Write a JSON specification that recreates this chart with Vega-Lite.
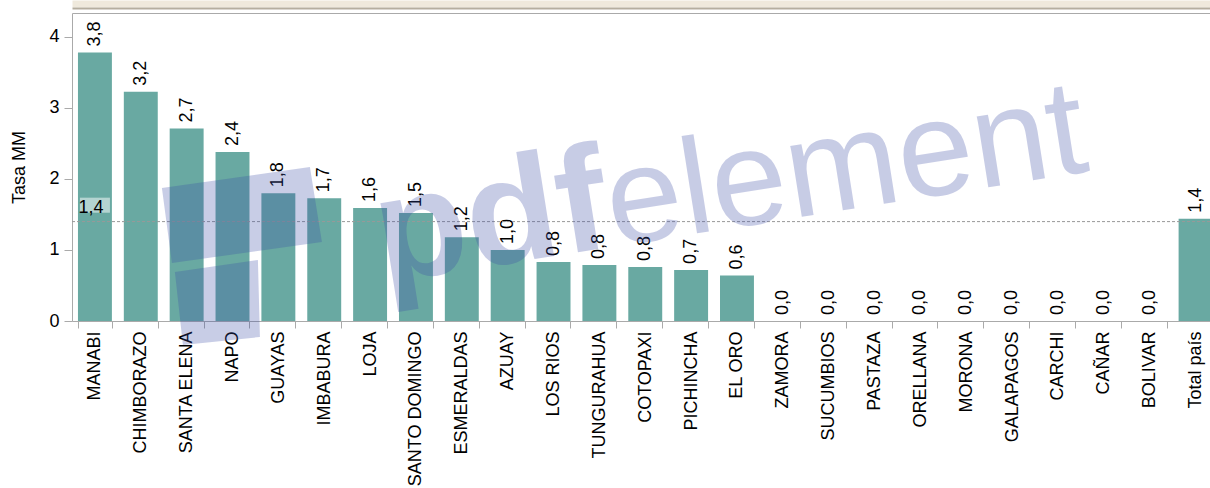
{
  "$schema": "https://vega.github.io/schema/vega-lite/v6.json",
  "width": 1138,
  "height": 308,
  "autosize": {"type": "none"},
  "padding": {"left": 72, "top": 13, "right": 0, "bottom": 167},
  "background": "white",
  "config": {
    "view": {"stroke": null},
    "font": "Liberation Sans",
    "locale": {"number": {"decimal": ",", "thousands": ".", "grouping": [3], "currency": ["", ""]}},
    "axis": {
      "labelFont": "Liberation Sans",
      "titleFont": "Liberation Sans",
      "labelColor": "black",
      "titleColor": "black",
      "domainColor": "#aaaaaa",
      "tickColor": "#aaaaaa",
      "grid": false
    }
  },
  "data": {
    "values": [
      {"provincia": "MANABI", "tasa": 3.78},
      {"provincia": "CHIMBORAZO", "tasa": 3.23},
      {"provincia": "SANTA ELENA", "tasa": 2.71},
      {"provincia": "NAPO", "tasa": 2.38},
      {"provincia": "GUAYAS", "tasa": 1.8},
      {"provincia": "IMBABURA", "tasa": 1.73},
      {"provincia": "LOJA", "tasa": 1.59},
      {"provincia": "SANTO DOMINGO", "tasa": 1.52},
      {"provincia": "ESMERALDAS", "tasa": 1.18},
      {"provincia": "AZUAY", "tasa": 1.0},
      {"provincia": "LOS RIOS", "tasa": 0.83},
      {"provincia": "TUNGURAHUA", "tasa": 0.79},
      {"provincia": "COTOPAXI", "tasa": 0.76},
      {"provincia": "PICHINCHA", "tasa": 0.72},
      {"provincia": "EL ORO", "tasa": 0.64},
      {"provincia": "ZAMORA", "tasa": 0},
      {"provincia": "SUCUMBIOS", "tasa": 0},
      {"provincia": "PASTAZA", "tasa": 0},
      {"provincia": "ORELLANA", "tasa": 0},
      {"provincia": "MORONA", "tasa": 0},
      {"provincia": "GALAPAGOS", "tasa": 0},
      {"provincia": "CARCHI", "tasa": 0},
      {"provincia": "CAÑAR", "tasa": 0},
      {"provincia": "BOLIVAR", "tasa": 0},
      {"provincia": "Total país", "tasa": 1.44}
    ]
  },
  "resolve": {"axis": {"x": "independent"}},
  "layer": [
    {
      "mark": {"type": "bar", "color": "#69a9a2"},
      "encoding": {
        "x": {
          "field": "provincia", "type": "nominal", "sort": null,
          "scale": {"range": [0, 1146.5], "paddingInner": 0.26, "paddingOuter": 0.13},
          "axis": {"title": null, "labelAngle": -90, "labelFontSize": 18, "labelPadding": 3, "tickSize": 7, "tickBand": "extent", "labelLimit": 300}
        },
        "y": {
          "field": "tasa", "type": "quantitative",
          "scale": {"domain": [0, 4.338], "nice": false, "zero": true},
          "axis": {"title": "Tasa MM", "values": [0, 1, 2, 3, 4], "format": "d", "labelFontSize": 18, "titleFontSize": 18, "titleFontWeight": "normal", "tickSize": 8, "labelPadding": 5, "titlePadding": 20}
        }
      }
    },
    {
      "mark": {"type": "text", "angle": 270, "align": "left", "baseline": "middle", "dx": 6, "fontSize": 18, "color": "black"},
      "encoding": {
        "x": {"field": "provincia", "type": "nominal", "sort": null,
              "axis": {"orient": "top", "labels": false, "ticks": false, "title": null, "domain": true}},
        "y": {"field": "tasa", "type": "quantitative"},
        "text": {"field": "tasa", "type": "quantitative", "format": ".1f"}
      }
    },
    {
      "data": {"values": [{}]},
      "mark": {"type": "rule", "color": "#999999", "strokeDash": [3, 2], "strokeWidth": 1},
      "encoding": {"y": {"datum": 1.4}}
    },
    {
      "data": {"values": [{}]},
      "mark": {"type": "bar", "width": 30, "color": "white", "opacity": 0.5},
      "encoding": {
        "x": {"datum": "MANABI", "type": "nominal",
              "axis": {"orient": "top", "labels": false, "ticks": false, "title": null, "domain": true, "domainColor": "#efe9dc", "domainWidth": 7, "offset": 9.5}},
        "y": {"datum": 1.525},
        "y2": {"datum": 1.737}
      }
    },
    {
      "data": {"values": [{}]},
      "mark": {"type": "text", "text": "1,4", "align": "center", "baseline": "alphabetic", "dx": -4, "fontSize": 18, "color": "black"},
      "encoding": {
        "x": {"datum": "MANABI", "type": "nominal",
              "axis": {"orient": "top", "labels": false, "ticks": false, "title": null, "domain": true, "domainColor": "#b5ae9f", "domainWidth": 2, "offset": 5}},
        "y": {"datum": 1.525}
      }
    },
    {
      "data": {"values": [{}]},
      "mark": {"type": "point", "shape": "M-0.706,-0.62L0.774,-0.83L0.894,-0.08L-0.606,0.13ZM-0.576,0.22L0.254,0.10L0.274,0.87L-0.496,0.95Z", "size": 40000, "filled": true, "color": "#3b4aa6", "opacity": 0.28, "strokeWidth": 0},
      "encoding": {
        "x": {"datum": "NAPO", "type": "nominal", "axis": null},
        "y": {"datum": 1.0}
      }
    },
    {
      "data": {"values": [{}]},
      "mark": {"type": "text", "text": "pdf", "font": "Liberation Sans", "fontWeight": "bold", "fontSize": 150, "angle": 351, "align": "right", "baseline": "alphabetic", "dx": 14, "color": "#3b4aa6", "opacity": 0.28},
      "encoding": {
        "x": {"datum": "TUNGURAHUA", "type": "nominal", "axis": null},
        "y": {"datum": 1.017}
      }
    },
    {
      "data": {"values": [{}]},
      "mark": {"type": "text", "text": "element", "font": "Liberation Sans", "fontWeight": "normal", "fontSize": 136, "angle": 351, "align": "left", "baseline": "alphabetic", "dx": 14, "color": "#3b4aa6", "opacity": 0.28},
      "encoding": {
        "x": {"datum": "TUNGURAHUA", "type": "nominal", "axis": null},
        "y": {"datum": 1.017}
      }
    }
  ]
}
